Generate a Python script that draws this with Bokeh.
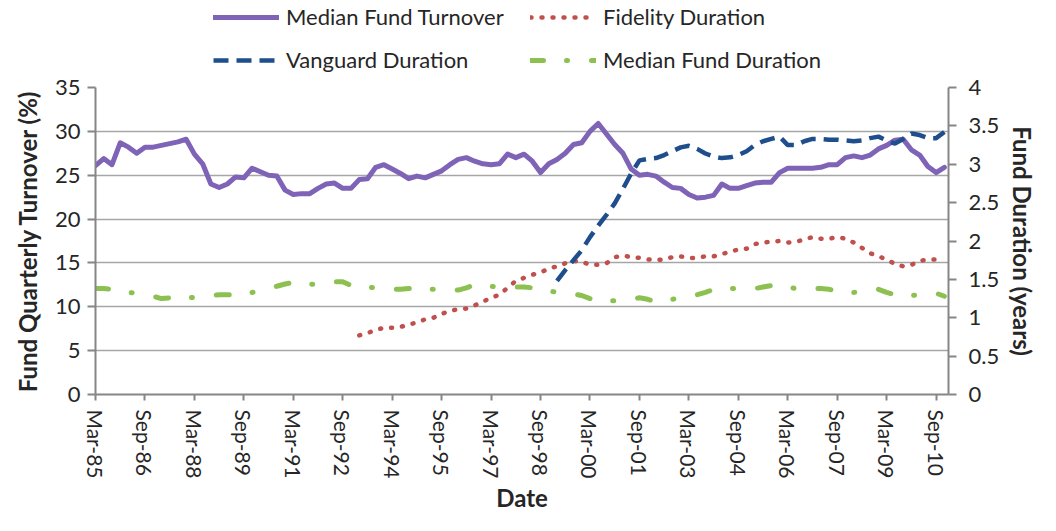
from bokeh.plotting import figure
from bokeh.layouts import column
from bokeh.models import (Range1d, LinearAxis, FixedTicker, Legend, LegendItem,
                          NumeralTickFormatter)
from bokeh.embed import file_html
from bokeh.resources import INLINE

# ---------------- data ----------------
tick_labels = ["Mar-85", "Sep-86", "Mar-88", "Sep-89", "Mar-91", "Sep-92",
               "Mar-94", "Sep-95", "Mar-97", "Sep-98", "Mar-00", "Sep-01",
               "Mar-03", "Sep-04", "Mar-06", "Sep-07", "Mar-09", "Sep-10"]
quarters_per_tick = 6

# Median fund quarterly turnover (%), quarterly Mar-85 .. Dec-10
turnover = [26.1, 26.9, 26.2, 28.7, 28.2, 27.5, 28.2, 28.2, 28.4, 28.6,
            28.8, 29.1, 27.4, 26.3, 24.0, 23.6, 24.0, 24.8, 24.7, 25.8,
            25.4, 25.0, 24.9, 23.3, 22.8, 22.9, 22.9, 23.5, 24.0, 24.1,
            23.5, 23.5, 24.5, 24.6, 25.9, 26.2, 25.7, 25.2, 24.6, 24.9,
            24.7, 25.1, 25.5, 26.2, 26.8, 27.0, 26.6, 26.3, 26.2, 26.3,
            27.4, 27.0, 27.4, 26.6, 25.3, 26.3, 26.8, 27.5, 28.5, 28.7,
            30.0, 30.9, 29.7, 28.5, 27.5, 25.7, 25.0, 25.1, 24.9, 24.2,
            23.6, 23.5, 22.8, 22.4, 22.5, 22.7, 24.0, 23.5, 23.5, 23.8,
            24.1, 24.2, 24.2, 25.3, 25.8, 25.8, 25.8, 25.8, 25.9, 26.2,
            26.2, 27.0, 27.2, 27.0, 27.3, 28.0, 28.4, 29.0, 29.1, 27.9,
            27.3, 26.0, 25.3, 25.9]

# Fidelity duration (years), starts Mar-93 (quarter index 32)
fidelity_start = 32
fidelity = [0.77, 0.80, 0.84, 0.87, 0.87, 0.88, 0.91, 0.94, 0.98, 1.00,
            1.05, 1.09, 1.11, 1.12, 1.16, 1.21, 1.26, 1.30, 1.39, 1.48,
            1.52, 1.56, 1.59, 1.64, 1.67, 1.71, 1.74, 1.73, 1.69, 1.69,
            1.71, 1.79, 1.81, 1.79, 1.78, 1.76, 1.75, 1.76, 1.79, 1.80,
            1.78, 1.78, 1.80, 1.80, 1.83, 1.86, 1.89, 1.90, 1.96, 1.98,
            1.99, 2.00, 1.98, 1.99, 2.02, 2.05, 2.03, 2.03, 2.05, 2.03,
            1.98, 1.91, 1.84, 1.80, 1.76, 1.70, 1.67, 1.69, 1.74, 1.76,
            1.76, 1.77]

# Vanguard duration (years), starts Mar-99 (quarter index 56)
vanguard_start = 56
vanguard = [1.48, 1.62, 1.75, 1.88, 2.05, 2.20, 2.34, 2.49, 2.68, 2.88,
            3.05, 3.07, 3.08, 3.12, 3.17, 3.22, 3.24, 3.20, 3.14, 3.10,
            3.08, 3.09, 3.12, 3.17, 3.25, 3.30, 3.33, 3.36, 3.25, 3.25,
            3.30, 3.33, 3.33, 3.32, 3.32, 3.31, 3.30, 3.31, 3.34, 3.36,
            3.31, 3.27, 3.33, 3.40, 3.38, 3.34, 3.34, 3.42]

# Median fund duration (years), quarterly Mar-85 .. Dec-10
median_duration = [1.38, 1.38, 1.37, 1.35, 1.33, 1.32, 1.30, 1.28, 1.25, 1.26,
                   1.27, 1.27, 1.26, 1.27, 1.29, 1.30, 1.30, 1.30, 1.31, 1.33,
                   1.35, 1.38, 1.41, 1.44, 1.46, 1.45, 1.44, 1.43, 1.45, 1.47,
                   1.47, 1.42, 1.40, 1.40, 1.39, 1.38, 1.37, 1.37, 1.38, 1.38,
                   1.38, 1.37, 1.37, 1.36, 1.36, 1.39, 1.43, 1.42, 1.41, 1.40,
                   1.40, 1.40, 1.40, 1.39, 1.37, 1.35, 1.33, 1.32, 1.31, 1.29,
                   1.25, 1.22, 1.22, 1.22, 1.23, 1.24, 1.26, 1.24, 1.21, 1.22,
                   1.24, 1.26, 1.28, 1.30, 1.33, 1.37, 1.38, 1.38, 1.38, 1.38,
                   1.38, 1.40, 1.42, 1.42, 1.40, 1.38, 1.38, 1.38, 1.38, 1.37,
                   1.35, 1.34, 1.33, 1.34, 1.36, 1.37, 1.33, 1.30, 1.29, 1.29,
                   1.30, 1.31, 1.32, 1.28]

series_names = ["Median Fund Turnover", "Fidelity Duration",
                "Vanguard Duration", "Median Fund Duration"]

left_ticks = [0, 5, 10, 15, 20, 25, 30, 35]
right_ticks = [0, 0.5, 1, 1.5, 2, 2.5, 3, 3.5, 4]

# ---------------- styling ----------------
FONT = "Lato"
TXT = "#262626"
AXIS_C = "#868686"
GRID_C = "#a6a6a6"

styles = [
    dict(line_color="#7f63b6", line_width=5, line_join="round", line_cap="round"),
    dict(line_color="#c0504d", line_width=4.5, line_dash="1 10", line_cap="round"),
    dict(line_color="#1f4e8c", line_width=4.5, line_dash="15 8"),
    dict(line_color="#8cc152", line_width=5, line_dash="13 23 1 24", line_cap="round"),
]

n = len(turnover)
x_all = list(range(n))
x_fid = list(range(fidelity_start, fidelity_start + len(fidelity)))
x_van = list(range(vanguard_start, vanguard_start + len(vanguard)))
series_xy = [(x_all, turnover), (x_fid, fidelity), (x_van, vanguard),
             (x_all, median_duration)]

# ---------------- main chart ----------------
p = figure(width=1040, height=442, output_backend="svg", toolbar_location=None,
           x_range=Range1d(0, n - 0.5), y_range=Range1d(left_ticks[0], left_ticks[-1]),
           min_border_left=95, min_border_right=85, min_border_top=14,
           min_border_bottom=115)
p.outline_line_color = None
p.background_fill_color = "white"
p.border_fill_color = "white"
p.extra_y_ranges = {"dur": Range1d(right_ticks[0], right_ticks[-1])}

p.line(x_all, turnover, **styles[0])
p.line(x_fid, fidelity, y_range_name="dur", **styles[1])
p.line(x_van, vanguard, y_range_name="dur", **styles[2])
p.line(x_all, median_duration, y_range_name="dur", **styles[3])

xa = p.xaxis[0]
xa.ticker = FixedTicker(ticks=[i * quarters_per_tick for i in range(len(tick_labels))])
xa.major_label_overrides = {i * quarters_per_tick: lab for i, lab in enumerate(tick_labels)}
xa.major_label_orientation = "vertical"
xa.axis_label = "Date"

ya = p.yaxis[0]
ya.ticker = FixedTicker(ticks=left_ticks)
ya.axis_label = "Fund Quarterly Turnover (%)"

ra = LinearAxis(y_range_name="dur", ticker=FixedTicker(ticks=right_ticks),
                formatter=NumeralTickFormatter(format="0.[0]"),
                axis_label="Fund Duration (years)")
p.add_layout(ra, "right")

for ax in (xa, ya, ra):
    ax.axis_line_color = AXIS_C
    ax.axis_line_width = 2
    ax.major_tick_line_color = AXIS_C
    ax.major_tick_line_width = 2
    ax.major_tick_in = 0
    ax.major_tick_out = 7
    ax.minor_tick_line_color = None
    ax.major_label_text_font = FONT
    ax.major_label_text_font_size = "22px"
    ax.major_label_text_color = TXT
    ax.axis_label_text_font = FONT
    ax.axis_label_text_font_size = "24px"
    ax.axis_label_text_font_style = "bold"
    ax.axis_label_text_color = TXT

xa.major_tick_out = 6
xa.major_label_text_font_size = "21px"
xa.major_label_standoff = 9
xa.axis_label_standoff = 2
ya.major_tick_out = 8
ya.major_label_standoff = 7
ya.axis_label_standoff = 10
ra.major_tick_out = 8
ra.major_label_standoff = 12
ra.axis_label_standoff = 6

p.xgrid.grid_line_color = None
p.ygrid.ticker = FixedTicker(ticks=left_ticks)
p.ygrid.grid_line_color = GRID_C
p.ygrid.grid_line_width = 1.6

# ---------------- legend strip above the chart ----------------
# same series, drawn against a 0..1 view so that only their legend swatches show
lg = figure(width=1040, height=73, output_backend="svg", toolbar_location=None,
            x_range=Range1d(0, 1), y_range=Range1d(-1, 0),
            x_axis_type=None, y_axis_type=None,
            min_border_left=0, min_border_right=0, min_border_top=0,
            min_border_bottom=0)
lg.outline_line_color = None
lg.grid.visible = False
lg.background_fill_color = "white"
lg.border_fill_color = "white"

leg_renderers = [lg.line(xs, ys, **st) for (xs, ys), st in zip(series_xy, styles)]

legend = Legend(items=[LegendItem(label=name, renderers=[r])
                       for name, r in zip(series_names, leg_renderers)],
                orientation="horizontal", ncols=2, location=(118, 0))
legend.padding = 0
legend.margin = 0
legend.spacing = 16
legend.glyph_width = 66
legend.glyph_height = 26
legend.label_height = 26
legend.label_width = 228
legend.label_standoff = 7
legend.label_text_font = FONT
legend.label_text_font_size = "22px"
legend.label_text_color = TXT
legend.border_line_color = None
legend.background_fill_alpha = 0
lg.add_layout(legend, "center")

layout = column(lg, p, spacing=0)
open("out.html", "w").write(file_html(layout, INLINE))
